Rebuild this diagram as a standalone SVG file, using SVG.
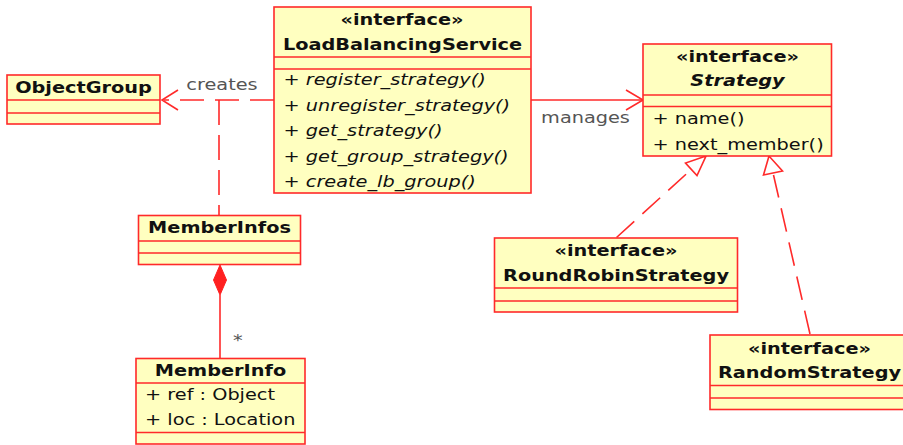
<svg xmlns="http://www.w3.org/2000/svg" width="903" height="445" viewBox="0 0 903 445">
<style>
.box{fill:#ffffc0;stroke:#ff2a2a;stroke-width:1.6}
.div{stroke:#ff2a2a;stroke-width:1.6;fill:none}
text{font-family:"DejaVu Sans","Liberation Sans",sans-serif;font-size:16.5px;fill:#111}
.b{font-weight:bold}
.c{text-anchor:middle}
.i{font-style:italic}
.lbl{fill:#555}
.ln{stroke:#ff2a2a;stroke-width:1.6;fill:none}
.dash{stroke-dasharray:24,11}
</style>
<rect width="903" height="445" fill="#ffffff"/>
<g id="connectors">
  <g id="creates">
    <path class="ln dash" d="M274,100 H164"/>
    <path class="ln" d="M178,90 L162,100 L178,110"/>
    <text class="lbl c" transform="matrix(1.17 0 0 1 222 90)">creates</text>
  </g>
  <path id="memberinfos-link" class="ln" style="stroke-dasharray:25,10" d="M219,100 V215"/>
  <g id="manages">
    <path class="ln" d="M531,100 H642"/>
    <path class="ln" d="M626,90 L643,100 L626,110"/>
    <text class="lbl c" transform="matrix(1.17 0 0 1 585.5 123)">manages</text>
  </g>
  <g id="composition">
    <path class="ln" d="M220,295 V358"/>
    <path d="M220,265 L226.5,280 L220,295 L213.5,280 Z" fill="#ff2020" stroke="#ff2020" stroke-width="1"/>
    <text class="lbl" transform="matrix(1.17 0 0 1 233 346)">*</text>
  </g>
  <g id="realize-rr">
    <path class="ln dash" d="M616.5,237.5 L691.2,169.5"/>
    <path class="ln" d="M706,156 L685.5,163 L697,175.5 Z" fill="#ffffff"/>
  </g>
  <g id="realize-rand">
    <path class="ln dash" d="M810,334 L773.5,175"/>
    <path class="ln" d="M769,156 L763.5,175 L782.5,171 Z" fill="#ffffff"/>
  </g>
</g>
<g id="ObjectGroup">
  <rect class="box" x="7" y="75" width="153" height="49"/>
  <path class="div" d="M7,100 H160 M7,113 H160"/>
  <text class="b c" transform="matrix(1.17 0 0 1 83.5 93)">ObjectGroup</text>
</g>
<g id="LoadBalancingService">
  <rect class="box" x="274" y="7" width="257" height="186"/>
  <path class="div" d="M274,57 H531 M274,69 H531"/>
  <text class="b c" transform="matrix(1.17 0 0 1 402 25)">«interface»</text>
  <text class="b c" transform="matrix(1.17 0 0 1 402.5 49.5)">LoadBalancingService</text>
  <text transform="matrix(1.17 0 0 1 283.5 85)">+ <tspan class="i">register_strategy()</tspan></text>
  <text transform="matrix(1.17 0 0 1 283.5 110.5)">+ <tspan class="i">unregister_strategy()</tspan></text>
  <text transform="matrix(1.17 0 0 1 283.5 136)">+ <tspan class="i">get_strategy()</tspan></text>
  <text transform="matrix(1.17 0 0 1 283.5 161.5)">+ <tspan class="i">get_group_strategy()</tspan></text>
  <text transform="matrix(1.17 0 0 1 283.5 187)">+ <tspan class="i">create_lb_group()</tspan></text>
</g>
<g id="Strategy">
  <rect class="box" x="643" y="44" width="188.5" height="112"/>
  <path class="div" d="M643,95 H831.5 M643,106.5 H831.5"/>
  <text class="b c" transform="matrix(1.17 0 0 1 737.5 62)">«interface»</text>
  <text class="b c i" transform="matrix(1.17 0 0 1 737.5 85.5)">Strategy</text>
  <text transform="matrix(1.17 0 0 1 652.5 124)">+ name()</text>
  <text transform="matrix(1.17 0 0 1 652.5 149.5)">+ next_member()</text>
</g>
<g id="MemberInfos">
  <rect class="box" x="138.5" y="215.5" width="162" height="49"/>
  <path class="div" d="M138.5,241 H300.5 M138.5,253 H300.5"/>
  <text class="b c" transform="matrix(1.17 0 0 1 219.5 233)">MemberInfos</text>
</g>
<g id="MemberInfo">
  <rect class="box" x="136" y="358.5" width="169" height="85.5"/>
  <path class="div" d="M136,383 H305 M136,432.5 H305"/>
  <text class="b c" transform="matrix(1.17 0 0 1 220.5 375.5)">MemberInfo</text>
  <text transform="matrix(1.17 0 0 1 145 399.5)">+ ref : Object</text>
  <text transform="matrix(1.17 0 0 1 145 425)">+ loc : Location</text>
</g>
<g id="RoundRobinStrategy">
  <rect class="box" x="494.5" y="238" width="243" height="74"/>
  <path class="div" d="M494.5,288 H737.5 M494.5,301 H737.5"/>
  <text class="b c" transform="matrix(1.17 0 0 1 616 256)">«interface»</text>
  <text class="b c" transform="matrix(1.17 0 0 1 616 280.5)">RoundRobinStrategy</text>
</g>
<g id="RandomStrategy">
  <rect class="box" x="710" y="335" width="199" height="74.5"/>
  <path class="div" d="M710,385.5 H909 M710,398 H909"/>
  <text class="b c" transform="matrix(1.17 0 0 1 809.5 353.5)">«interface»</text>
  <text class="b c" transform="matrix(1.17 0 0 1 809.5 378)">RandomStrategy</text>
</g>
</svg>
